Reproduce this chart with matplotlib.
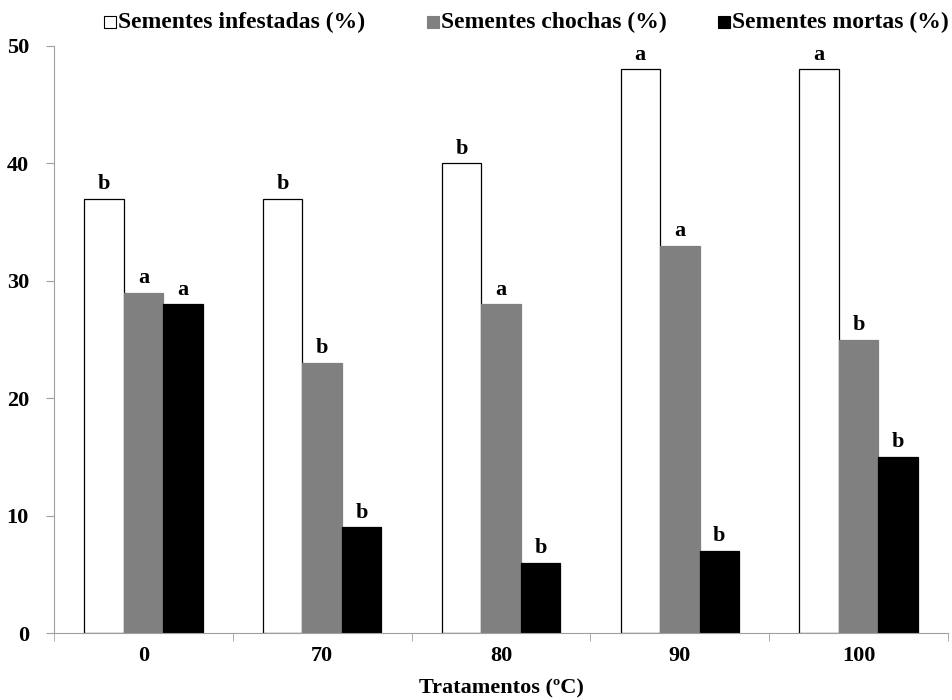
import matplotlib

matplotlib.use("Agg")
import matplotlib.pyplot as plt
import numpy as np

categories = ["0", "70", "80", "90", "100"]
infestadas = [37, 37, 40, 48, 48]
chochas = [29, 23, 28, 33, 25]
mortas = [28, 9, 6, 7, 15]
letters_inf = ["b", "b", "b", "a", "a"]
letters_cho = ["a", "b", "a", "a", "b"]
letters_mor = ["a", "b", "b", "b", "b"]
series_names = ["Sementes infestadas (%)", "Sementes chochas (%)", "Sementes mortas (%)"]

plt.rcParams["font.family"] = ["Liberation Serif", "DejaVu Serif"]
plt.rcParams["font.weight"] = "bold"

W, H = 952, 700
fig = plt.figure(figsize=(W / 100, H / 100), dpi=100)
ax = fig.add_axes([0.0567, 0.0957, 0.9391, 0.8386])

x = np.arange(len(categories))
w = 0.221
styles = [
    (infestadas, letters_inf, "white", "black"),
    (chochas, letters_cho, "#808080", "#808080"),
    (mortas, letters_mor, "black", "black"),
]
for k, (vals, labs, fc, ec) in enumerate(styles):
    pos = x + (k - 1) * w
    ax.bar(pos, vals, width=w, color=fc, edgecolor=ec, linewidth=0.9, zorder=2)
    for p, v, t in zip(pos, vals, labs):
        ax.text(p, v + 0.4, t, ha="center", va="bottom", fontsize=16, fontweight="bold")

ax.set_xlim(-0.5, len(categories) - 0.5)
ax.set_ylim(0, 50)
ax.set_yticks([0, 10, 20, 30, 40, 50])
ax.set_xticks(x)
ax.set_xticklabels(categories)
ax.set_xticks(np.arange(-0.5, len(categories)), minor=True)
ax.tick_params(axis="x", which="major", length=0, pad=9, labelsize=16)
ax.tick_params(axis="x", which="minor", length=6, direction="out", color="#a0a0a0")
ax.tick_params(axis="y", length=6, direction="out", color="#a0a0a0", labelsize=16, pad=12)
for lab in ax.get_xticklabels() + ax.get_yticklabels():
    lab.set_fontweight("bold")
for s in ["top", "right"]:
    ax.spines[s].set_visible(False)
for s in ["left", "bottom"]:
    ax.spines[s].set_color("#a0a0a0")
ax.set_xlabel("Tratamentos (ºC)", fontsize=16, fontweight="bold", labelpad=9)

# legend row drawn by hand so the spacing follows the original
legend_x = [110, 433, 724]
legend_y = 1 - 22 / H
for lx, name, (_, _, fc, ec) in zip(legend_x, series_names, styles):
    fig.lines.append(plt.Line2D([lx / W], [legend_y], transform=fig.transFigure,
                                marker="s", markersize=8, markerfacecolor=fc,
                                markeredgecolor=ec, markeredgewidth=0.8, linestyle="none"))
    fig.text((lx + 8) / W, legend_y, name, ha="left", va="center",
             fontsize=17, fontweight="bold")

fig.savefig("out.png", dpi=100)
